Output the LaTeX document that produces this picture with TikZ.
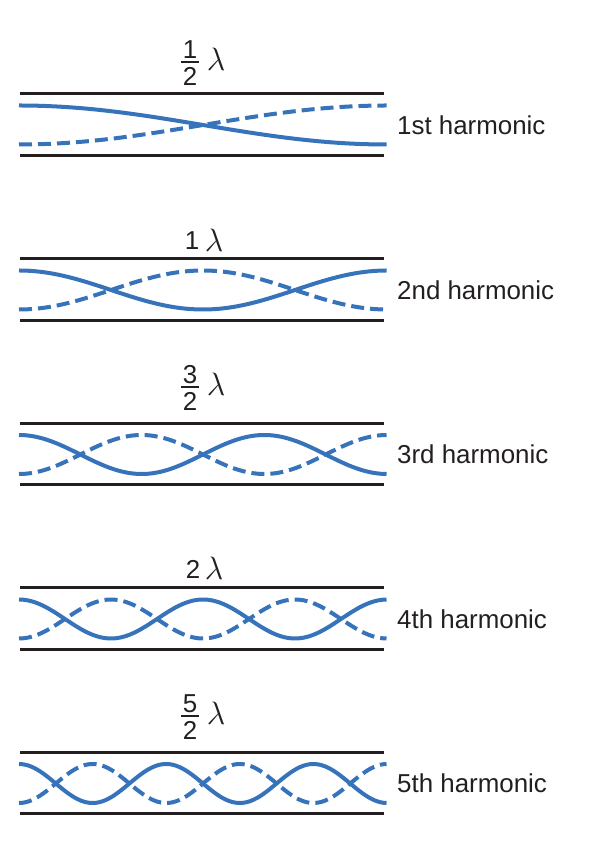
\documentclass[tikz,border=0pt]{standalone}
\usepackage{fontspec}
\setmainfont{Liberation Sans}
\definecolor{wave}{HTML}{3673BA}
\definecolor{ink}{HTML}{231F20}
\begin{document}
\begin{tikzpicture}[x=1pt,y=1pt,
  rail/.style={draw=ink, line width=3pt},
  wavesolid/.style={draw=wave, line width=4pt},
  wavedash/.style={wavesolid, dash pattern=on 13pt off 6pt},
  txt/.style={font=\fontsize{25.9}{30}\selectfont, text=ink, inner sep=0pt},
  lam/.style={font=\fontsize{24.88}{30}\selectfont, text=ink, inner sep=0pt, scale=1.3},
  fbar/.style={draw=ink, line width=1.8pt}]
\useasboundingbox (0,0) rectangle (606,860);
% rails, waves and harmonic labels
\foreach \i/\t/\b/\c/\lab in {1/94/156/125/1st, 2/259/321/290/2nd, 3/424/485/454.5/3rd, 4/588/650/619/4th, 5/753/814/783.5/5th}{
  \draw[rail] (20,{860-\t}) -- (384,{860-\t});
  \draw[rail] (20,{860-\b}) -- (384,{860-\b});
  \draw[wavesolid] plot[domain=0:1,samples=120,smooth] ({19+368*\x},{860-\c+19.5*cos(\i*180*\x)});
  \draw[wavedash] plot[domain=0:1,samples=120,smooth] ({19+368*\x},{860-\c-19.5*cos(\i*180*\x)});
  \node[txt,anchor=west] (h\i) at (397,{860-\c}) {\lab\ harmonic};
}
% fraction labels
\foreach \i/\num/\bar in {1/1/62, 3/3/387, 5/5/716}{
  \node[txt] (fn\i) at (190,{860-\bar+12.5}) {\num};
  \node[txt] (fd\i) at (190,{860-\bar-14}) {2};
  \draw[fbar] (181,{860-\bar}) -- (199,{860-\bar});
  \node[lam] (fl\i) at (216,{860-\bar+3}) {$\lambda$};
}
\node[txt] (w2n) at (192,{860-241}) {1};
\node[lam] (w2l) at (214,{860-240}) {$\lambda$};
\node[txt] (w4n) at (193,{860-569}) {2};
\node[lam] (w4l) at (214,{860-568}) {$\lambda$};
\end{tikzpicture}
\end{document}
